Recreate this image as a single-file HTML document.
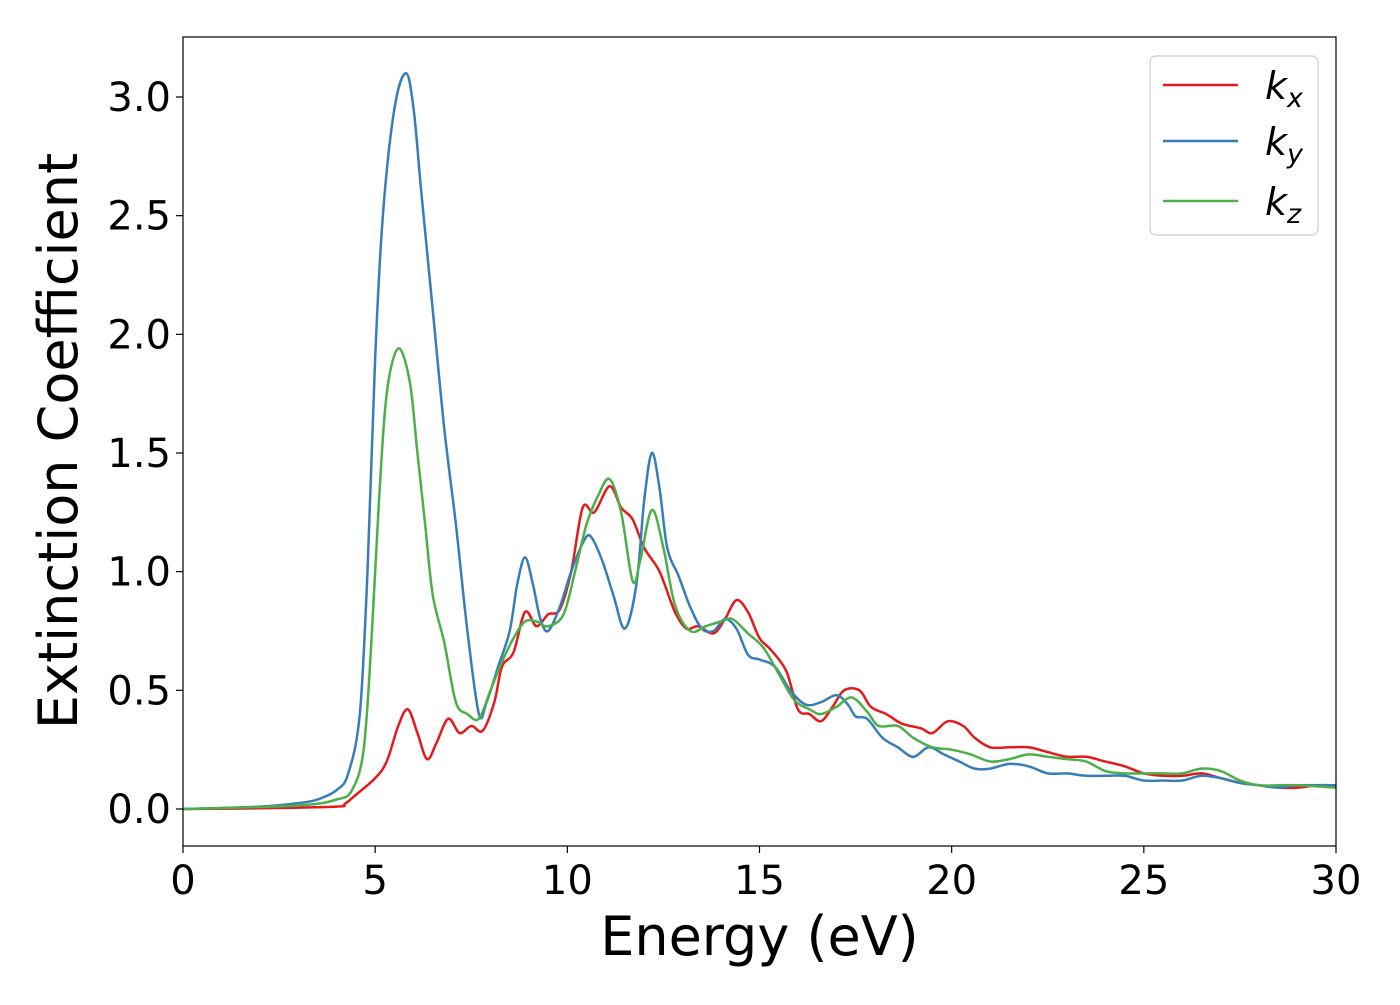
<!DOCTYPE html>
<html><head><meta charset="utf-8"><style>
body{margin:0;background:#fff;}
svg text{font-family:"DejaVu Sans","Liberation Sans",sans-serif;}
</style></head><body>
<svg id="chart" width="1400" height="1000" xmlns="http://www.w3.org/2000/svg">
<g id="plot"></g>
</svg>
<script>
const xTicks=[0,5,10,15,20,25,30];
const yTicks=[0.0,0.5,1.0,1.5,2.0,2.5,3.0];
const yTickLabels=["0.0","0.5","1.0","1.5","2.0","2.5","3.0"];
const kxE=[0,2,4,4.2,4.5,5,5.3,5.6,5.85,6.1,6.35,6.6,6.9,7.2,7.5,7.8,8.1,8.3,8.6,8.9,9.2,9.5,9.8,10.1,10.4,10.7,11.1,11.4,11.7,12.0,12.4,12.8,13.1,13.4,13.8,14.1,14.4,14.7,15.0,15.3,15.7,16.0,16.3,16.6,16.9,17.2,17.6,17.9,18.3,18.7,19.2,19.5,19.9,20.3,20.6,21,21.5,22,22.5,23,23.5,24,24.5,25,25.5,26,26.5,27,27.5,28,28.5,29,29.5,30];
const kxV=[0,0.003,0.01,0.02,0.06,0.13,0.2,0.35,0.42,0.32,0.21,0.28,0.38,0.32,0.35,0.33,0.45,0.6,0.66,0.83,0.77,0.82,0.84,1.0,1.27,1.25,1.36,1.27,1.22,1.1,1.0,0.83,0.76,0.77,0.74,0.8,0.88,0.83,0.72,0.67,0.58,0.42,0.40,0.37,0.43,0.5,0.5,0.43,0.40,0.36,0.34,0.32,0.37,0.35,0.30,0.26,0.26,0.26,0.24,0.22,0.22,0.20,0.18,0.15,0.14,0.14,0.15,0.13,0.11,0.10,0.09,0.09,0.10,0.10];
const kyE=[0,2,3,3.5,4,4.3,4.6,4.8,5.0,5.2,5.5,5.8,6.0,6.2,6.5,6.8,7.1,7.4,7.7,7.9,8.2,8.5,8.7,8.9,9.1,9.3,9.5,9.8,10.1,10.4,10.6,10.9,11.2,11.5,11.8,12.0,12.2,12.4,12.6,12.9,13.2,13.5,13.8,14.1,14.4,14.7,15.0,15.4,15.8,16.2,16.6,17.0,17.3,17.5,17.8,18.2,18.6,19.0,19.4,19.8,20.2,20.6,21,21.5,22,22.5,23,23.5,24,24.5,25,25.5,26,26.5,27,27.5,28,28.5,29,30];
const kyV=[0,0.01,0.025,0.04,0.08,0.15,0.4,1.0,1.9,2.5,2.95,3.1,2.95,2.6,2.1,1.6,1.2,0.75,0.4,0.45,0.6,0.75,0.95,1.06,0.95,0.8,0.75,0.85,1.0,1.12,1.15,1.05,0.9,0.76,0.95,1.3,1.5,1.35,1.1,0.98,0.85,0.76,0.75,0.8,0.76,0.65,0.63,0.6,0.5,0.44,0.45,0.48,0.44,0.39,0.38,0.3,0.26,0.22,0.26,0.23,0.2,0.17,0.17,0.19,0.18,0.15,0.15,0.14,0.14,0.14,0.12,0.12,0.12,0.14,0.13,0.11,0.10,0.09,0.10,0.10];
const kzE=[0,3,4,4.4,4.7,4.9,5.1,5.3,5.6,5.9,6.1,6.3,6.5,6.8,7.1,7.4,7.7,8.0,8.3,8.6,8.9,9.2,9.5,9.9,10.2,10.5,10.8,11.1,11.4,11.7,11.9,12.2,12.5,12.8,13.2,13.6,14.0,14.3,14.7,15.1,15.5,15.9,16.3,16.6,17.0,17.4,17.8,18.1,18.6,19.0,19.5,20.0,20.5,21,21.5,22,22.5,23,23.5,24,24.5,25,25.5,26,26.5,27,27.5,28,28.5,29,30];
const kzV=[0,0.015,0.04,0.08,0.25,0.7,1.3,1.75,1.94,1.8,1.5,1.2,0.9,0.7,0.45,0.4,0.38,0.5,0.62,0.72,0.79,0.79,0.77,0.82,1.0,1.2,1.32,1.39,1.25,0.96,1.05,1.26,1.1,0.86,0.75,0.77,0.79,0.8,0.74,0.68,0.57,0.46,0.42,0.4,0.43,0.47,0.41,0.35,0.35,0.3,0.26,0.25,0.23,0.2,0.21,0.23,0.22,0.21,0.2,0.16,0.15,0.15,0.15,0.15,0.17,0.16,0.12,0.10,0.10,0.10,0.09];
const L=183,R=1336,T=37,B=846;
const X=v=>L+(v-0)/30*(R-L);
const Y=v=>809-v/3.0*712;
const NS="http://www.w3.org/2000/svg";
const svg=document.getElementById('chart');
function mk(tag,attrs,parent){const e=document.createElementNS(NS,tag);for(const k in attrs)e.setAttribute(k,attrs[k]);(parent||svg).appendChild(e);return e;}
function path(xs,ys){const p=xs.map((x,i)=>[X(x),Y(ys[i])]);let d="M"+p[0][0]+","+p[0][1];
for(let i=0;i<p.length-1;i++){const p0=p[Math.max(0,i-1)],p1=p[i],p2=p[i+1],p3=p[Math.min(p.length-1,i+2)];
d+=" C"+(p1[0]+(p2[0]-p0[0])/6)+","+(p1[1]+(p2[1]-p0[1])/6)+" "+(p2[0]-(p3[0]-p1[0])/6)+","+(p2[1]-(p3[1]-p1[1])/6)+" "+p2[0]+","+p2[1];}return d;}
const defs=mk('defs',{});const cp=mk('clipPath',{id:'c'},defs);mk('rect',{x:L,y:T,width:R-L,height:B-T},cp);
const g=mk('g',{'clip-path':'url(#c)'});
const series=[[kxE,kxV,'#e41a1c','series-kx'],[kyE,kyV,'#377eb8','series-ky'],[kzE,kzV,'#4daf4a','series-kz']];
series.forEach(s=>{const e=mk('path',{d:path(s[0],s[1]),fill:'none',stroke:s[2],'stroke-width':2.5},g);

});
const fr=mk('rect',{x:L,y:T,width:R-L,height:B-T,fill:'none',stroke:'#000','stroke-width':1.2});


xTicks.forEach(t=>{mk('line',{x1:X(t),x2:X(t),y1:B,y2:B+7,stroke:'#000','stroke-width':1.2});
const tx=mk('text',{x:X(t),y:B+48,'font-size':40,'text-anchor':'middle'});tx.textContent=t;

});
yTicks.forEach((t,i)=>{mk('line',{x1:L-7,x2:L,y1:Y(t),y2:Y(t),stroke:'#000','stroke-width':1.2});
const tx=mk('text',{x:L-12,y:Y(t)+14,'font-size':40,'text-anchor':'end'});tx.textContent=yTickLabels[i];

});
const xt=mk('text',{x:(L+R)/2,y:955,'font-size':54,'text-anchor':'middle'});xt.textContent='Energy (eV)';


const yt=mk('text',{x:0,y:0,'font-size':54,'text-anchor':'middle',transform:'translate(77,441) rotate(-90)'});yt.textContent='Extinction Coefficient';


const lg=mk('g',{});


mk('rect',{x:1150,y:56,width:168,height:179,rx:6,fill:'#fff',stroke:'#ccc','stroke-width':1.2},lg);
const labs=[['x',85],['y',141],['z',201]];
series.forEach((s,i)=>{const y=labs[i][1];
mk('line',{x1:1163,x2:1238,y1:y,y2:y,stroke:s[2],'stroke-width':2.5},lg);
const t=mk('text',{x:1265,y:y+14,'font-size':38,'font-style':'italic'},lg);
t.innerHTML='k<tspan font-size="27" dy="8">'+labs[i][0]+'</tspan>';

});
</script>
</body></html>
